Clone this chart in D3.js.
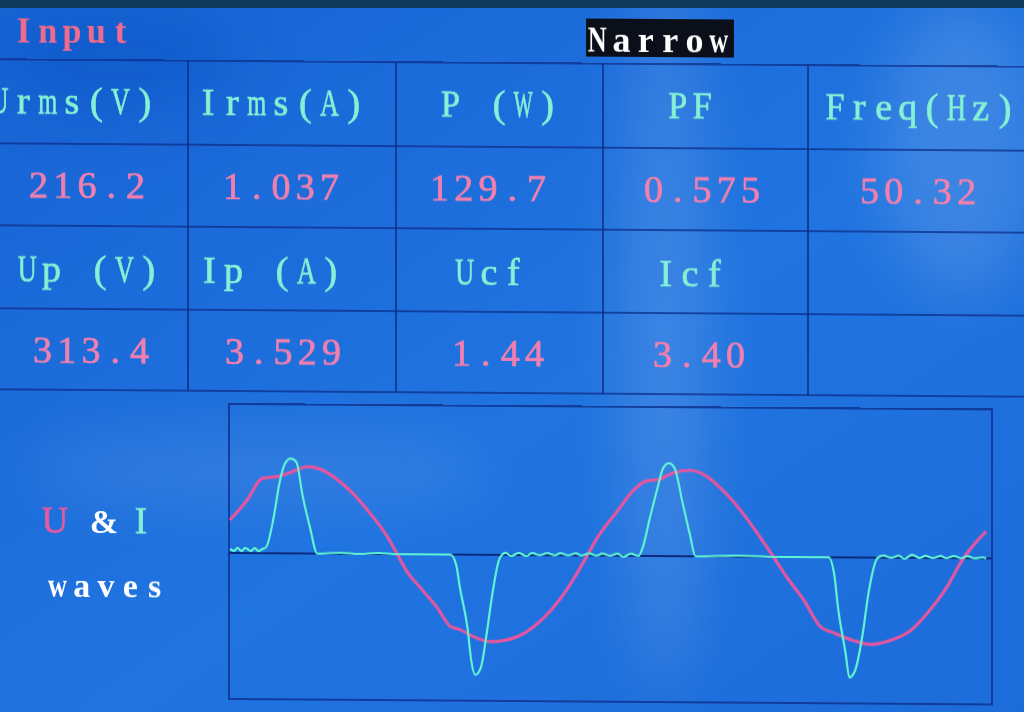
<!DOCTYPE html>
<html>
<head>
<meta charset="utf-8">
<script src="https://cdn.jsdelivr.net/npm/d3@7"></script>
<style>
  html, body { margin: 0; padding: 0; background: #1c6ede; overflow: hidden; }
</style>
</head>
<body>
<div class="screen"></div>
<script>
// table texts
var headTop = ["Urms(V)", "Irms(A)", "P (W)", "PF", "Freq(Hz)"];
var valTop = ["216.2", "1.037", "129.7", "0.575", "50.32"];
var headLow = ["Up (V)", "Ip (A)", "Ucf", "Icf", ""];
var valLow = ["313.4", "3.529", "1.44", "3.40", ""];

// voltage wave, time in ms, volts
var uTime = [0.0,0.9,1.7,2.5,3.2,4.1,4.7,5.6,6.5,7.4,8.3,8.8,9.3,10.0,10.9,11.6,12.1,12.8,13.7,14.6,
             15.6,16.5,17.4,18.1,18.8,19.3,20.4,21.2,21.9,22.6,23.3,24.2,25.1,25.9,26.8,27.7,28.6,29.3,30.2,31.1,
             31.7,32.8,33.7,34.7,35.8,36.8,37.7,38.6,39.3,39.8];
var uVolt = [119,191,270,277,292,313,306,270,216,144,61,0,-61,-119,-191,-259,-270,-295,-313,-306,
             -277,-227,-155,-83,0,61,162,234,270,277,299,310,288,241,173,90,0,-72,-155,-252,
             -270,-299,-313,-299,-263,-191,-108,0,61,97];

// current wave, time in ms, amperes
var iTime = [0.0,0.2,0.4,0.6,0.8,1.1,1.3,1.5,1.7,1.9,2.3,2.6,2.9,3.2,3.5,3.8,4.2,4.6,5.8,6.8,7.8,8.8,
             11.6,11.9,12.1,12.5,12.7,12.9,13.2,13.5,13.8,14.2,14.5,14.8,15.2,15.6,15.9,16.3,16.7,17.1,17.4,
             17.8,18.2,18.5,18.9,19.3,19.6,20.0,20.4,20.7,21.1,21.5,21.7,22.1,22.5,22.8,23.1,23.4,23.8,24.2,24.5,
             26.8,28.9,31.5,31.8,32.0,32.4,32.6,32.9,33.3,33.6,34.1,34.4,34.8,35.2,35.5,35.9,36.3,36.6,37.0,
             37.4,37.7,38.1,38.5,38.8,39.2,39.6,39.8];
var iAmp = [0.12,0.06,0.15,0.06,0.15,0.06,0.15,0.06,0.12,0.18,1.06,2.06,2.65,2.79,2.68,1.76,0.79,0,0.03,0,0.03,0,
            0,-0.29,-0.97,-2.15,-3.12,-3.53,-3.32,-2.35,-1.18,-0.09,0.06,-0.03,0.06,-0.03,0.06,0,0.06,0,0.06,
            0,0.06,0,0.06,0,0.06,0,0.06,-0.03,0.06,0,0.21,1.12,2.0,2.59,2.73,2.59,1.62,0.65,0,
            0.03,0,0,-0.5,-1.47,-2.82,-3.53,-3.32,-2.24,-1.06,0,0.06,0,0.06,-0.03,0.09,0,0.06,0,
            0.06,0,0.06,0,0.06,0,0.03,0];

var W = 1024, H = 712;
var pitch = 24.3;
var fontFam = "'Liberation Serif', 'DejaVu Serif', serif";
var labelCol = "#84f0d4", valueCol = "#f27fae", lineCol = "#0d2f8c";

var svg = d3.select(".screen").append("svg")
    .attr("width", W).attr("height", H);

var defs = svg.append("defs");
var bg = defs.append("linearGradient").attr("id", "bg")
    .attr("x1", 0).attr("y1", 0).attr("x2", 1).attr("y2", 1);
bg.append("stop").attr("offset", "0%").attr("stop-color", "#1763d4");
bg.append("stop").attr("offset", "55%").attr("stop-color", "#2074e0");
bg.append("stop").attr("offset", "100%").attr("stop-color", "#1c6cda");
defs.append("filter").attr("id", "soft").attr("x", "-50%").attr("y", "-50%").attr("width", "200%").attr("height", "200%")
    .append("feGaussianBlur").attr("stdDeviation", 28);

svg.append("rect").attr("width", W).attr("height", H).attr("fill", "url(#bg)");

// reflections on the glass
var glare = svg.append("g").attr("filter", "url(#soft)");
glare.append("ellipse").attr("cx", 665).attr("cy", 330).attr("rx", 45).attr("ry", 360)
    .attr("fill", "#ffffff").attr("opacity", 0.12);
glare.append("ellipse").attr("cx", 960).attr("cy", 150).attr("rx", 80).attr("ry", 150)
    .attr("fill", "#ffffff").attr("opacity", 0.12);
glare.append("ellipse").attr("cx", 260).attr("cy", 470).attr("rx", 230).attr("ry", 40)
    .attr("fill", "#ffffff").attr("opacity", 0.08);
glare.append("ellipse").attr("cx", 120).attr("cy", 60).attr("rx", 120).attr("ry", 50)
    .attr("fill", "#0b48b8").attr("opacity", 0.3);

// bezel at the top
svg.append("rect").attr("width", W).attr("height", 8).attr("fill", "#123a5a");

// slight skew of the photo
var ky = 0.0072;
var g = svg.append("g")
    .attr("transform", "matrix(1," + ky + ",0,1,0," + (-ky * 512) + ")");

// table grid
var rowLines = [63, 147, 229, 312, 393];
var colLines = [188, 396, 603, 808];
g.selectAll(".hline").data(rowLines).enter().append("line")
    .attr("x1", 0).attr("x2", W).attr("y1", function(d){ return d; }).attr("y2", function(d){ return d; })
    .attr("stroke", lineCol).attr("stroke-width", 1.6);
g.selectAll(".vline").data(colLines).enter().append("line")
    .attr("x1", function(d){ return d; }).attr("x2", function(d){ return d; })
    .attr("y1", rowLines[0]).attr("y2", rowLines[4])
    .attr("stroke", lineCol).attr("stroke-width", 1.6);

// one glyph per cell, like the meter font; wide glyphs get squeezed
function drawText(str, cx, y, color, size, weight) {
    var chars = str.split("");
    var x0 = cx - (chars.length - 1) * pitch / 2;
    chars.forEach(function(c, i) {
        if (c === " ") return;
        var t = g.append("text")
            .attr("x", 0).attr("y", 0)
            .attr("text-anchor", "middle")
            .attr("font-family", fontFam)
            .attr("font-size", size || 38)
            .attr("font-weight", weight || "normal")
            .attr("fill", color)
            .attr("stroke", color).attr("stroke-width", weight ? 0 : 0.7)
            .text(c);
        var w = t.node().getComputedTextLength();
        var s = w > 19 ? 19 / w : 1;
        t.attr("transform", "translate(" + (x0 + i * pitch) + "," + y + ") scale(" + s + ",1)");
    });
}

var cxHeadTop = [72, 281, 499, 690, 920];
var cxValTop = [87, 281, 488, 702, 918];
var cxHeadLow = [88, 270, 489, 690, 920];
var cxValLow = [91, 283, 498, 699, 920];

headTop.forEach(function(s, i){ drawText(s, cxHeadTop[i], 117, labelCol); });
valTop.forEach(function(s, i){ drawText(s, cxValTop[i], 201, valueCol); });
headLow.forEach(function(s, i){ drawText(s, cxHeadLow[i], 285, labelCol); });
valLow.forEach(function(s, i){ drawText(s, cxValLow[i], 366, valueCol); });

// title bar
drawText("Input", 72, 46, "#ef6a8c", 36, "bold");
g.append("rect").attr("x", 586).attr("y", 18).attr("width", 148).attr("height", 38).attr("fill", "#0b0f1a");
drawText("Narrow", 658, 51, "#ffffff", 36, "bold");

// wave label
g.append("text").attr("x", 55).attr("y", 536).attr("text-anchor", "middle")
    .attr("font-family", fontFam).attr("font-size", 37).attr("fill", "#e35b9e")
    .attr("stroke", "#e35b9e").attr("stroke-width", 0.7).text("U");
g.append("text").attr("x", 104).attr("y", 536).attr("text-anchor", "middle")
    .attr("font-family", fontFam).attr("font-size", 34).attr("font-weight", "bold").attr("fill", "#ffffff").text("&");
g.append("text").attr("x", 141).attr("y", 536).attr("text-anchor", "middle")
    .attr("font-family", fontFam).attr("font-size", 37).attr("fill", labelCol)
    .attr("stroke", labelCol).attr("stroke-width", 0.7).text("I");
drawText("waves", 106, 600, "#ffffff", 34, "bold");

// wave panel
var box = { x0: 229, x1: 992, y0: 406, y1: 701 };
var zeroY = 555;
var x = d3.scaleLinear().domain([0, 40]).range([230, 990]);
var yU = d3.scaleLinear().domain([-530, 530]).range([zeroY + 147, zeroY - 147]);
var yI = d3.scaleLinear().domain([-4.32, 4.32]).range([zeroY + 147, zeroY - 147]);

g.append("rect").attr("x", box.x0).attr("y", box.y0)
    .attr("width", box.x1 - box.x0).attr("height", box.y1 - box.y0)
    .attr("fill", "none").attr("stroke", lineCol).attr("stroke-width", 1.6);
g.append("line").attr("x1", box.x0).attr("x2", box.x1)
    .attr("y1", yU(0)).attr("y2", yU(0))
    .attr("stroke", "#0b2a7e").attr("stroke-width", 2);

var uLine = d3.line()
    .x(function(d){ return x(d[0]); })
    .y(function(d){ return yU(d[1]); })
    .curve(d3.curveMonotoneX);
var iLine = d3.line()
    .x(function(d){ return x(d[0]); })
    .y(function(d){ return yI(d[1]); })
    .curve(d3.curveMonotoneX);

g.append("path").datum(d3.zip(uTime, uVolt))
    .attr("d", uLine).attr("fill", "none")
    .attr("stroke", "#e2569f").attr("stroke-width", 3.2);
g.append("path").datum(d3.zip(iTime, iAmp))
    .attr("d", iLine).attr("fill", "none")
    .attr("stroke", "#5ff2d2").attr("stroke-width", 2.2);
</script>
</body>
</html>
